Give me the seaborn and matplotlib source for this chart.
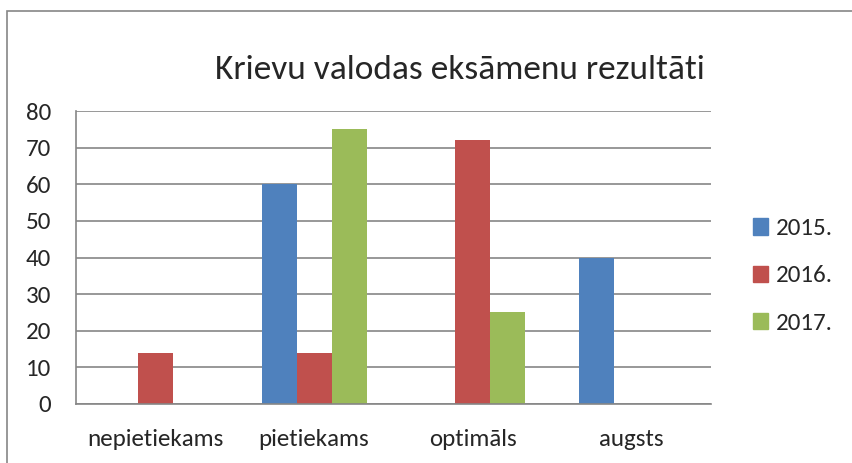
import seaborn as sns
import matplotlib.pyplot as plt
import matplotlib.patches as mpatches
import pandas as pd

# Data
categories = ['nepietiekams', 'pietiekams', 'optimāls', 'augsts']
years = ['2015.', '2016.', '2017.']
values_2015 = [0, 60, 0, 40]
values_2016 = [14, 14, 72, 0]
values_2017 = [0, 75, 25, 0]
colors = ['#4F81BD', '#C0504D', '#9BBB59']

df = pd.DataFrame({
    'kategorija': categories * 3,
    'gads': [years[0]] * 4 + [years[1]] * 4 + [years[2]] * 4,
    'skaits': values_2015 + values_2016 + values_2017,
})

sns.set_style('white')
plt.rcParams['font.family'] = ['Carlito', 'Lato', 'DejaVu Sans']

fig = plt.figure(figsize=(8.53, 4.63), dpi=100)
ax = fig.add_axes([76 / 853, 1 - 404 / 463, (711 - 76) / 853, (404 - 111) / 463])

sns.barplot(data=df, x='kategorija', y='skaits', hue='gads', order=categories,
            hue_order=years, palette=colors, width=0.66, linewidth=0,
            saturation=1, ax=ax, legend=False)

# Axes styling like the original spreadsheet chart
ax.set_ylim(0, 80)
ax.set_yticks(range(0, 81, 10))
ax.yaxis.grid(True, color='#868686', linewidth=1.2)
ax.set_axisbelow(True)
for side in ['top', 'right']:
    ax.spines[side].set_visible(False)
for side in ['left', 'bottom']:
    ax.spines[side].set_color('#868686')
    ax.spines[side].set_linewidth(1.2)
ax.tick_params(axis='y', length=0, pad=18, labelsize=18)
ax.tick_params(axis='x', length=0, pad=18, labelsize=18)
ax.set_xlabel('')
ax.set_ylabel('')

# Title
fig.text(460 / 853, 1 - 70 / 463, 'Krievu valodas eksāmenu rezultāti',
         ha='center', va='center', fontsize=25.5)

# Legend
handles = [mpatches.Patch(color=c, label=y) for c, y in zip(colors, years)]
fig.legend(handles=handles, loc='center left', bbox_to_anchor=(743 / 853, 1 - 276 / 463),
           frameon=False, fontsize=18, handlelength=0.62, handleheight=0.62,
           handletextpad=0.3, labelspacing=1.05, borderaxespad=0)

# Outer chart border
fig.patches.append(mpatches.Rectangle((7 / 853, -0.5), 2, 0.5 + (1 - 11 / 463),
                                      transform=fig.transFigure, fill=False,
                                      edgecolor='#868686', linewidth=1.2))

plt.savefig('out.png', dpi=100)
